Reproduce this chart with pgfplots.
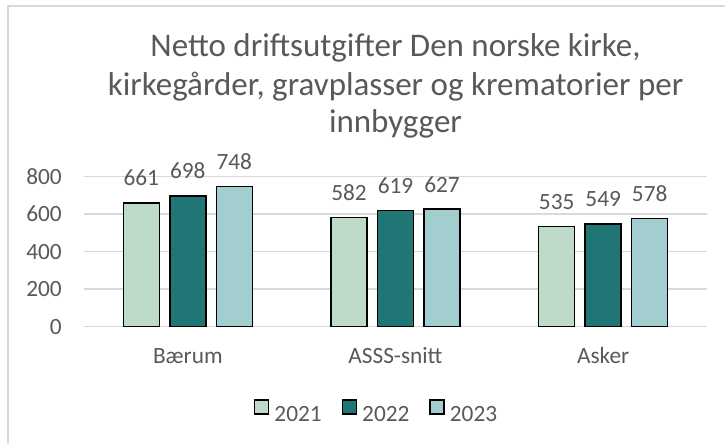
\documentclass[border=0pt]{standalone}
\usepackage{fontspec}
\setmainfont{Carlito}
\usepackage{pgfplots}
\pgfplotsset{compat=1.18}
\definecolor{cA}{HTML}{BDDBC8}
\definecolor{cB}{HTML}{1F7674}
\definecolor{cC}{HTML}{A3CED0}
\definecolor{txt}{HTML}{595959}
\definecolor{grd}{HTML}{D9D9D9}
\newcommand{\lblfont}{\fontsize{23.3pt}{27pt}\selectfont}
\newcommand{\ttlfont}{\fontsize{33pt}{39pt}\selectfont}
\begin{document}
\begin{tikzpicture}
\useasboundingbox (0pt,0pt) rectangle (725pt,444pt);
\fill[white] (0pt,0pt) rectangle (725pt,444pt);
\draw[grd, line width=1.2pt] (8pt,0pt) -- (8pt,438pt) -- (725pt,438pt);
\node[anchor=base, text=txt, font=\ttlfont, inner sep=0pt] at (395.5pt,387.3pt) {Netto driftsutgifter Den norske kirke,};
\node[anchor=base, text=txt, font=\ttlfont, inner sep=0pt] at (395.5pt,348pt) {kirkegårder, gravplasser og krematorier per};
\node[anchor=base, text=txt, font=\ttlfont, inner sep=0pt] at (395.5pt,311pt) {innbygger};
\begin{axis}[
  at={(84pt,117.3pt)}, anchor=south west,
  width=623pt, height=150pt, scale only axis,
  ybar, bar width=36pt,
  xmin=-0.5, xmax=2.5, ymin=0, ymax=800,
  xtick={0,1,2}, xticklabels={Bærum,ASSS-snitt,Asker},
  ytick={0,200,400,600,800},
  ymajorgrids, grid style={grd, line width=1.5pt},
  axis line style={draw=none},
  major tick length=0pt,
  tick label style={font=\lblfont, text=txt},
  /pgf/number format/assume math mode=true,
  yticklabel style={anchor=east, inner sep=0pt, xshift=-22pt},
  xticklabel style={anchor=base, inner sep=0pt, yshift=-37.3pt},
  nodes near coords,
  every node near coord/.append style={font=\lblfont, text=txt, anchor=base, inner sep=0pt, yshift=17pt},
  legend style={at={(axis description cs:0.468,-0.562)}, anchor=center, draw=none, fill=none,
    font=\lblfont, text=txt, legend columns=-1, nodes={inner sep=0pt},
    /tikz/every odd column/.append style={column sep=5pt},
    /tikz/every even column/.append style={column sep=20pt}},
  legend image code/.code={\draw[#1, line width=1.5pt] (0pt,0pt) rectangle (14pt,14pt);},
  clip=false,
]
\addplot[fill=cA, draw=black, line width=1.5pt, bar shift=-46.5pt] coordinates {(0,661) (1,582) (2,535)};
\addplot[fill=cB, draw=black, line width=1.5pt, bar shift=0pt] coordinates {(0,698) (1,619) (2,549)};
\addplot[fill=cC, draw=black, line width=1.5pt, bar shift=46.5pt] coordinates {(0,748) (1,627) (2,578)};
\legend{2021,2022,2023}
\end{axis}
\end{tikzpicture}
\end{document}
